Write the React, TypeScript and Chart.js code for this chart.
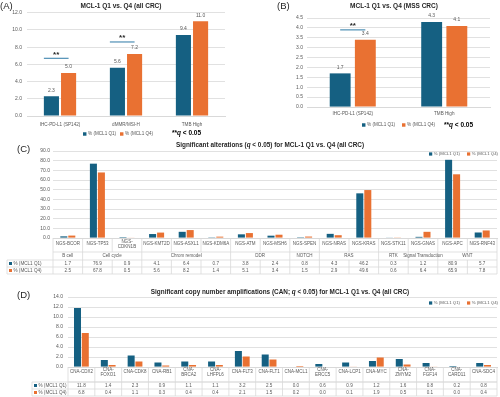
import React, { useEffect, useRef } from "react";
import { Chart, registerables } from "chart.js";
Chart.register(...registerables);

const FONT = "'Liberation Sans', Arial, sans-serif";
const BLUE = "#156082";
const ORANGE = "#E97132";
const TXT = "#595959";
const DARK = "#262626";
const GRID = "#D9D9D9";
const SIGLINE = "#4E8FB5";

const SERIES = ["% (MCL1 Q1)", "% (MCL1 Q4)"];

// (A) all CRC
const aCats = ["IHC-PD-L1 (SP142)", "dMMR/MSI-H", "TMB High"];
const aQ1 = [2.3, 5.6, 9.4];
const aQ4 = [5.0, 7.2, 11.0];
const aSigIdx = [0, 1];
const aSigLevel = [6.7, 8.6];

// (B) MSS CRC
const bCats = ["IHC-PD-L1 (SP142)", "TMB High"];
const bQ1 = [1.7, 4.3];
const bQ4 = [3.4, 4.1];
const bSigIdx = [0];
const bSigLevel = [3.9];

// (C) significant alterations
const cCats = [["NGS-BCOR"], ["NGS-TP53"], ["NGS-", "CDKN1B"], ["NGS-KMT2D"], ["NGS-ASXL1"], ["NGS-KDM6A"], ["NGS-ATM"], ["NGS-MSH6"], ["NGS-SPEN"], ["NGS-NRAS"], ["NGS-KRAS"], ["NGS-STK11"], ["NGS-GNAS"], ["NGS-APC"], ["NGS-RNF43"]];
const cGroups = ["B cell", "Cell cycle", "Chrom remodel", "DDR", "NOTCH", "RAS", "RTK", "Signal Transduction", "WNT"];
const cGroupSizes = [1, 2, 3, 2, 1, 2, 1, 1, 2];
const cQ1 = [1.7, 76.9, 0.9, 4.1, 6.4, 0.7, 3.8, 2.4, 0.8, 4.3, 46.2, 0.3, 1.2, 80.9, 5.7];
const cQ4 = [2.5, 67.8, 0.5, 5.6, 8.2, 1.4, 5.1, 3.4, 1.5, 2.9, 49.6, 0.6, 6.4, 65.9, 7.8];

// (D) copy number amplifications
const dCats = [["CNA-CDX2"], ["CNA-", "FOXO1"], ["CNA-CDK8"], ["CNA-RB1"], ["CNA-", "BRCA2"], ["CNA-", "LHFPL6"], ["CNA-FLT3"], ["CNA-FLT1"], ["CNA-MCL1"], ["CNA-", "ERCC5"], ["CNA-LCP1"], ["CNA-MYC"], ["CNA-", "ZMYM2"], ["CNA-", "FGF14"], ["CNA-", "CARD11"], ["CNA-SDC4"]];
const dQ1 = [11.8, 1.4, 2.3, 0.9, 1.1, 1.1, 3.2, 2.5, 0.0, 0.6, 0.9, 1.2, 1.6, 0.8, 0.2, 0.8];
const dQ4 = [6.8, 0.4, 1.1, 0.3, 0.4, 0.4, 2.1, 1.5, 0.2, 0.0, 0.1, 1.9, 0.5, 0.1, 0.0, 0.4];

type Seg = { t: string; it?: boolean };

function richText(ctx: CanvasRenderingContext2D, segs: Seg[], x: number, y: number, size: number, color: string, bold: boolean, align: "left" | "center") {
  ctx.save();
  const font = (s: Seg) => `${s.it ? "italic " : ""}${bold ? "bold " : ""}${size}px ${FONT}`;
  let w = 0;
  segs.forEach((s) => { ctx.font = font(s); w += ctx.measureText(s.t).width; });
  let cx = align === "center" ? x - w / 2 : x;
  ctx.fillStyle = color;
  ctx.textBaseline = "middle";
  ctx.textAlign = "left";
  segs.forEach((s) => { ctx.font = font(s); ctx.fillText(s.t, cx, y); cx += ctx.measureText(s.t).width; });
  ctx.restore();
}

function plainText(ctx: CanvasRenderingContext2D, t: string, x: number, y: number, size: number, color: string, align: CanvasTextAlign = "center", bold = false) {
  ctx.save();
  ctx.font = `${bold ? "bold " : ""}${size}px ${FONT}`;
  ctx.fillStyle = color;
  ctx.textAlign = align;
  ctx.textBaseline = "middle";
  ctx.fillText(t, x, y);
  ctx.restore();
}

function drawLegend(ctx: CanvasRenderingContext2D, xs: number[], y: number, size: number) {
  SERIES.forEach((s, i) => {
    const q = size * 0.75;
    ctx.fillStyle = i ? ORANGE : BLUE;
    ctx.fillRect(xs[i], y - q / 2, q, q);
    plainText(ctx, s, xs[i] + q + size * 0.35, y, size, TXT, "left");
  });
}

function barDs(label: string, data: number[], color: string, cat: number, bar: number) {
  return { label, data, backgroundColor: color, borderWidth: 0, categoryPercentage: cat, barPercentage: bar };
}

function abPlugin(o: { tag: string; tagX: number; title: string; titleX: number; legendXs: number[]; legendY: number; noteX: number; noteY: number; sigIdx: number[]; sigLevel: number[]; sigStart: "left" | "center" }) {
  return {
    id: "abPanel",
    afterDraw(chart: any) {
      const ctx = chart.ctx as CanvasRenderingContext2D;
      plainText(ctx, o.tag, o.tagX, 6, 9.5, DARK, "left");
      plainText(ctx, o.title, o.titleX, 6, 6.5, DARK, "center", true);
      const m0 = chart.getDatasetMeta(0), m1 = chart.getDatasetMeta(1);
      [m0, m1].forEach((m: any, d: number) =>
        m.data.forEach((el: any, i: number) => {
          const v = chart.data.datasets[d].data[i] as number;
          plainText(ctx, v.toFixed(1), el.x, el.y - 6, 5, TXT);
        })
      );
      o.sigIdx.forEach((idx, k) => {
        const b = m0.data[idx], r = m1.data[idx];
        const y = chart.scales.y.getPixelForValue(o.sigLevel[k]);
        const x1 = o.sigStart === "left" ? b.x - b.width / 2 : b.x;
        const x2 = r.x;
        ctx.save();
        ctx.strokeStyle = SIGLINE;
        ctx.lineWidth = 1.2;
        ctx.beginPath();
        ctx.moveTo(x1, y);
        ctx.lineTo(x2, y);
        ctx.stroke();
        ctx.restore();
        plainText(ctx, "**", (x1 + x2) / 2, y - 4, 8, DARK, "center", true);
      });
      drawLegend(ctx, o.legendXs, o.legendY, 4.6);
      richText(ctx, [{ t: "**" }, { t: "q", it: true }, { t: " < 0.05" }], o.noteX, o.noteY, 6.5, "#000", true, "left");
    },
  };
}

function tablePlugin(o: { tag: string; tagY: number; title: Seg[]; titleX: number; titleY: number; legendXs: number[]; legendY: number; cats: string[][]; groups?: string[]; groupSizes?: number[]; rows: number[][]; leftX: number; catY: number; groupY?: number; lines: number[]; rowY: number[] }) {
  return {
    id: "tablePanel",
    afterDraw(chart: any) {
      const ctx = chart.ctx as CanvasRenderingContext2D;
      plainText(ctx, o.tag, 17, o.tagY, 9.5, DARK, "left");
      richText(ctx, o.title, o.titleX, o.titleY, 6.4, DARK, true, "center");
      drawLegend(ctx, o.legendXs, o.legendY, 4.3);
      const xs = chart.scales.x, ys = chart.scales.y;
      const n = o.cats.length;
      const L = xs.left, R = xs.right;
      const cw = (R - L) / n;
      const top = ys.bottom;
      const hasG = !!o.groups;
      const dataTop = hasG ? o.lines[1] : o.lines[0];
      const bottom = o.lines[o.lines.length - 1];
      ctx.save();
      ctx.strokeStyle = GRID;
      ctx.lineWidth = 0.8;
      const hl = (x1: number, x2: number, y: number) => { ctx.beginPath(); ctx.moveTo(x1, y); ctx.lineTo(x2, y); ctx.stroke(); };
      const vl = (x: number, y1: number, y2: number) => { ctx.beginPath(); ctx.moveTo(x, y1); ctx.lineTo(x, y2); ctx.stroke(); };
      hl(L, R, o.lines[0]);
      for (let k = hasG ? 1 : 0; k < o.lines.length; k++) hl(o.leftX, R, o.lines[k]);
      for (let i = 0; i <= n; i++) {
        vl(L + i * cw, top, o.lines[0]);
        vl(L + i * cw, dataTop, bottom);
      }
      if (hasG && o.groupSizes) {
        let acc = 0;
        vl(L, o.lines[0], o.lines[1]);
        o.groupSizes.forEach((s) => { acc += s; vl(L + acc * cw, o.lines[0], o.lines[1]); });
      }
      vl(o.leftX, dataTop, bottom);
      ctx.restore();
      o.cats.forEach((lns, i) => {
        const cx = xs.getPixelForValue(i);
        lns.forEach((ln, j) => plainText(ctx, ln, cx, o.catY + (j - (lns.length - 1) / 2) * 5.2, 4.5, TXT));
      });
      if (hasG && o.groups && o.groupSizes && o.groupY !== undefined) {
        let acc = 0;
        o.groups.forEach((g, k) => {
          const s = o.groupSizes![k];
          plainText(ctx, g, L + (acc + s / 2) * cw, o.groupY!, 4.5, TXT);
          acc += s;
        });
      }
      o.rows.forEach((vals, r) => {
        const y = o.rowY[r];
        ctx.fillStyle = r ? ORANGE : BLUE;
        ctx.fillRect(o.leftX + 2, y - 1.5, 3, 3);
        plainText(ctx, SERIES[r], o.leftX + 6.5, y, 4.6, TXT, "left");
        vals.forEach((v, i) => plainText(ctx, v.toFixed(1), xs.getPixelForValue(i), y, 4.6, TXT));
      });
    },
  };
}

function baseScales(min: number, max: number, step: number, yWidth: number, yPad: number, xHeight: number, xTicks: boolean, xPad: number) {
  return {
    x: {
      grid: { display: false, drawTicks: false },
      border: { color: GRID },
      ticks: { display: xTicks, color: TXT, font: { family: FONT, size: 4.6 }, padding: xPad, autoSkip: false, maxRotation: 0 },
      afterFit: (s: any) => { s.height = xHeight; },
    },
    y: {
      min, max,
      grid: { color: GRID, drawTicks: false, lineWidth: 0.8 },
      border: { display: false },
      ticks: { stepSize: step, color: TXT, font: { family: FONT, size: 5 }, padding: yPad, callback: (v: any) => Number(v).toFixed(1) },
      afterFit: (s: any) => { s.width = yWidth; },
    },
  };
}

const commonOpts = { responsive: false, animation: false, devicePixelRatio: 1 };

const makeA = () => ({
  type: "bar",
  data: { labels: aCats, datasets: [barDs(SERIES[0], aQ1, BLUE, 0.52, 0.88), barDs(SERIES[1], aQ4, ORANGE, 0.52, 0.88)] },
  options: {
    ...commonOpts,
    layout: { padding: { left: 0, right: 25, top: 12.7, bottom: 0 } },
    plugins: { legend: { display: false }, tooltip: { enabled: false } },
    scales: baseScales(0, 12, 2, 27, 5, 24, true, 6),
  },
  plugins: [abPlugin({ tag: "(A)", tagX: 0, title: "MCL-1 Q1 vs. Q4 (all CRC)", titleX: 121, legendXs: [83, 120], legendY: 134, noteX: 172, noteY: 133, sigIdx: aSigIdx, sigLevel: aSigLevel, sigStart: "left" })],
});

const makeB = () => ({
  type: "bar",
  data: { labels: bCats, datasets: [barDs(SERIES[0], bQ1, BLUE, 0.55, 0.83), barDs(SERIES[1], bQ4, ORANGE, 0.55, 0.83)] },
  options: {
    ...commonOpts,
    layout: { padding: { left: 0, right: 10, top: 18, bottom: 0 } },
    plugins: { legend: { display: false }, tooltip: { enabled: false } },
    scales: baseScales(0, 4.5, 0.5, 57, 4, 33, true, 4),
  },
  plugins: [abPlugin({ tag: "(B)", tagX: 27, title: "MCL-1 Q1 vs. Q4 (MSS CRC)", titleX: 144, legendXs: [112, 152], legendY: 125, noteX: 194, noteY: 125, sigIdx: bSigIdx, sigLevel: bSigLevel, sigStart: "center" })],
});

const makeC = () => ({
  type: "bar",
  data: { labels: cCats, datasets: [barDs(SERIES[0], cQ1, BLUE, 0.54, 0.88), barDs(SERIES[1], cQ4, ORANGE, 0.54, 0.88)] },
  options: {
    ...commonOpts,
    layout: { padding: { left: 0, right: 3, top: 11, bottom: 0 } },
    plugins: { legend: { display: false }, tooltip: { enabled: false } },
    scales: baseScales(0, 90, 10, 53, 3, 48, false, 0),
  },
  plugins: [tablePlugin({
    tag: "(C)", tagY: 9,
    title: [{ t: "Significant alterations (" }, { t: "q", it: true }, { t: " < 0.05) for MCL-1 Q1 vs. Q4 (all CRC)" }],
    titleX: 270, titleY: 5, legendXs: [429, 467], legendY: 14,
    cats: cCats, groups: cGroups, groupSizes: cGroupSizes, rows: [cQ1, cQ4],
    leftX: 7, catY: 104, groupY: 116, lines: [112, 120, 127, 134], rowY: [123.5, 130.5],
  })],
});

const makeD = () => ({
  type: "bar",
  data: { labels: dCats, datasets: [barDs(SERIES[0], dQ1, BLUE, 0.58, 0.9), barDs(SERIES[1], dQ4, ORANGE, 0.58, 0.9)] },
  options: {
    ...commonOpts,
    layout: { padding: { left: 0, right: 3, top: 11, bottom: 0 } },
    plugins: { legend: { display: false }, tooltip: { enabled: false } },
    scales: baseScales(0, 14, 2, 68, 5, 30, false, 0),
  },
  plugins: [tablePlugin({
    tag: "(D)", tagY: 9,
    title: [{ t: "Significant copy number amplifications (CAN; " }, { t: "q", it: true }, { t: " < 0.05) for MCL-1 Q1 vs. Q4 (all CRC)" }],
    titleX: 280, titleY: 6, legendXs: [429, 467], legendY: 17,
    cats: dCats, rows: [dQ1, dQ4],
    leftX: 32, catY: 86, lines: [96, 103, 110], rowY: [99.5, 106.5],
  })],
});

function ChartCanvas({ left, top, width, height, make }: { left: number; top: number; width: number; height: number; make: () => any }) {
  const ref = useRef<HTMLCanvasElement>(null);
  useEffect(() => {
    const chart = new Chart(ref.current as HTMLCanvasElement, make());
    return () => chart.destroy();
  }, []);
  return <canvas ref={ref} width={width} height={height} style={{ position: "absolute", left, top, width, height }} />;
}

export default function App() {
  return (
    <div style={{ position: "absolute", left: 0, top: 0, width: 500, height: 397, background: "#fff", overflow: "hidden" }}>
      <ChartCanvas left={0} top={0} width={250} height={140} make={makeA} />
      <ChartCanvas left={250} top={0} width={250} height={140} make={makeB} />
      <ChartCanvas left={0} top={140} width={500} height={146} make={makeC} />
      <ChartCanvas left={0} top={286} width={500} height={111} make={makeD} />
    </div>
  );
}
